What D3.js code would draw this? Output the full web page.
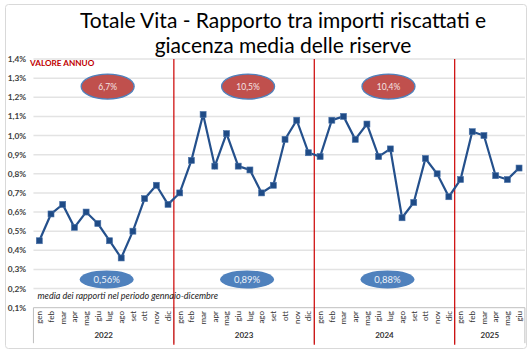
<!DOCTYPE html>
<html>
<head>
<meta charset="utf-8">
<script src="https://cdn.jsdelivr.net/npm/d3@7"></script>
<style>
  body { margin: 0; background: #fff; }
  svg text { font-family: Lato, "Open Sans", sans-serif; }
</style>
</head>
<body>
<div id="viz"></div>
<script>
// DATA
var years = ["2022", "2023", "2024", "2025"];
var months = ["gen", "feb", "mar", "apr", "mag", "giu", "lug", "ago", "set", "ott", "nov", "dic"];
var values2022 = [0.45, 0.59, 0.64, 0.52, 0.60, 0.54, 0.45, 0.36, 0.50, 0.67, 0.74, 0.64];
var values2023 = [0.70, 0.87, 1.11, 0.84, 1.01, 0.84, 0.82, 0.70, 0.74, 0.98, 1.08, 0.91];
var values2024 = [0.89, 1.08, 1.10, 0.98, 1.06, 0.89, 0.93, 0.57, 0.65, 0.88, 0.80, 0.68];
var values2025 = [0.77, 1.02, 1.00, 0.79, 0.77, 0.83];
var annualValues = ["6,7%", "10,5%", "10,4%"];
var meanValues = ["0,56%", "0,89%", "0,88%"];
var yTicks = [0.1, 0.2, 0.3, 0.4, 0.5, 0.6, 0.7, 0.8, 0.9, 1.0, 1.1, 1.2, 1.3, 1.4];

var series = [values2022, values2023, values2024, values2025];
var points = [];
series.forEach(function(vals, yi) {
  vals.forEach(function(v, mi) {
    points.push({ year: years[yi], month: months[mi], value: v, i: points.length });
  });
});

// Dimensions
var w = 529, h = 354;
var margin = { top: 59, right: 4.1, bottom: 46.3, left: 33.45 };

var svg = d3.select("#viz").append("svg")
  .attr("width", w)
  .attr("height", h);

// chart border
svg.append("rect")
  .attr("x", 5.5).attr("y", 4.5)
  .attr("width", 521).attr("height", 344)
  .attr("rx", 3)
  .attr("fill", "none")
  .attr("stroke", "#d9d9d9");

var x = d3.scaleBand()
  .domain(points.map(function(d) { return d.i; }))
  .range([margin.left, w - margin.right])
  .padding(0);

var y = d3.scaleLinear()
  .domain([0.1, 1.4])
  .range([h - margin.bottom, margin.top]);

var fmt = function(v) { return d3.format(".1f")(v).replace(".", ",") + "%"; };

// gridlines
svg.append("g")
  .selectAll("line")
  .data(yTicks.slice(1))
  .enter().append("line")
  .attr("x1", margin.left).attr("x2", w - margin.right)
  .attr("y1", function(d) { return y(d); })
  .attr("y2", function(d) { return y(d); })
  .attr("stroke", "#e3e3e3")
  .attr("stroke-width", 1.5);

// y labels
svg.append("g")
  .selectAll("text")
  .data(yTicks)
  .enter().append("text")
  .attr("x", 26)
  .attr("y", function(d) { return y(d) + 3; })
  .attr("text-anchor", "end")
  .attr("font-size", "8.3px")
  .attr("font-weight", "bold")
  .attr("fill", "#404040")
  .text(fmt);

// x axis line
var axisY = y(0.1);
svg.append("line")
  .attr("x1", margin.left).attr("x2", w - margin.right)
  .attr("y1", axisY).attr("y2", axisY)
  .attr("stroke", "#bfbfbf");

// year groups
var groupBounds = [];
var start = 0;
series.forEach(function(vals, yi) {
  groupBounds.push({ year: years[yi], first: start, last: start + vals.length - 1 });
  start += vals.length;
});
function groupLeft(g) { return x(g.first); }
function groupRight(g) { return x(g.last) + x.bandwidth(); }
function groupCenter(g) { return (groupLeft(g) + groupRight(g)) / 2; }

var dividers = [groupLeft(groupBounds[0])].concat(groupBounds.map(groupRight));
svg.append("g")
  .selectAll("line")
  .data(dividers)
  .enter().append("line")
  .attr("x1", function(d) { return d; }).attr("x2", function(d) { return d; })
  .attr("y1", axisY).attr("y2", axisY + 35.5)
  .attr("stroke", "#bfbfbf");

// month labels
svg.append("g")
  .selectAll("text")
  .data(points)
  .enter().append("text")
  .attr("transform", function(d) {
    return "translate(" + (x(d.i) + x.bandwidth() / 2 + 2.8) + "," + (axisY + 3.3) + ") rotate(-90)";
  })
  .attr("text-anchor", "end")
  .attr("font-size", "8px")
  .attr("fill", "#333")
  .text(function(d) { return d.month; });

// year labels
svg.append("g")
  .selectAll("text")
  .data(groupBounds)
  .enter().append("text")
  .attr("x", groupCenter)
  .attr("y", axisY + 30.5)
  .attr("text-anchor", "middle")
  .attr("font-size", "8px")
  .attr("font-weight", "bold")
  .attr("fill", "#333")
  .text(function(d) { return d.year; });

// red separators between years
svg.append("g")
  .selectAll("line")
  .data(groupBounds.slice(0, 3))
  .enter().append("line")
  .attr("x1", groupRight).attr("x2", groupRight)
  .attr("y1", margin.top).attr("y2", axisY + 37)
  .attr("stroke", "#cc0000")
  .attr("stroke-width", 1.2);

// line
var line = d3.line()
  .x(function(d) { return x(d.i) + x.bandwidth() / 2; })
  .y(function(d) { return y(d.value); });

svg.append("path")
  .datum(points)
  .attr("d", line)
  .attr("fill", "none")
  .attr("stroke", "#24508c")
  .attr("stroke-width", 2.2);

svg.append("g")
  .selectAll("rect")
  .data(points)
  .enter().append("rect")
  .attr("x", function(d) { return x(d.i) + x.bandwidth() / 2 - 3; })
  .attr("y", function(d) { return y(d.value) - 3; })
  .attr("width", 6).attr("height", 6)
  .attr("fill", "#1f4b86")
  .attr("stroke", "#4a72a8")
  .attr("stroke-width", 0.6);

// annual value ellipses
var annual = svg.append("g")
  .selectAll("g")
  .data(groupBounds.slice(0, 3))
  .enter().append("g")
  .attr("transform", function(d) { return "translate(" + (groupCenter(d) + 4) + "," + y(1.256) + ")"; });
annual.append("ellipse")
  .attr("rx", 26.5).attr("ry", 12.5)
  .attr("fill", "#c0504d")
  .attr("stroke", "#4f81bd")
  .attr("stroke-width", 1.3);
annual.append("text")
  .attr("y", 3)
  .attr("text-anchor", "middle")
  .attr("font-size", "8.5px")
  .attr("fill", "#f4e4e4")
  .text(function(d, i) { return annualValues[i]; });

// mean ellipses
var mean = svg.append("g")
  .selectAll("g")
  .data(groupBounds.slice(0, 3))
  .enter().append("g")
  .attr("transform", function(d) { return "translate(" + (groupCenter(d) + 3) + "," + y(0.248) + ")"; });
mean.append("ellipse")
  .attr("rx", 27).attr("ry", 9)
  .attr("fill", "#4f81bd");
mean.append("text")
  .attr("y", 3.5)
  .attr("text-anchor", "middle")
  .attr("font-size", "9.5px")
  .attr("fill", "#eef3fa")
  .text(function(d, i) { return meanValues[i]; });

// notes
svg.append("text")
  .attr("x", 30).attr("y", 65.7)
  .attr("font-size", "8.2px")
  .attr("font-weight", "bold")
  .attr("fill", "#c00000")
  .text("VALORE ANNUO");

svg.append("text")
  .attr("x", 37.5).attr("y", 299)
  .attr("font-size", "9px")
  .attr("font-style", "italic")
  .attr("fill", "#222")
  .text("media dei rapporti nel periodo gennaio-dicembre");

// title
var title = svg.append("text")
  .attr("text-anchor", "middle")
  .attr("font-size", "21px")
  .attr("fill", "#000");
title.append("tspan").attr("x", 283).attr("y", 28.3).text("Totale Vita - Rapporto tra importi riscattati e");
title.append("tspan").attr("x", 283).attr("y", 53.3).text("giacenza media delle riserve");
</script>
</body>
</html>
